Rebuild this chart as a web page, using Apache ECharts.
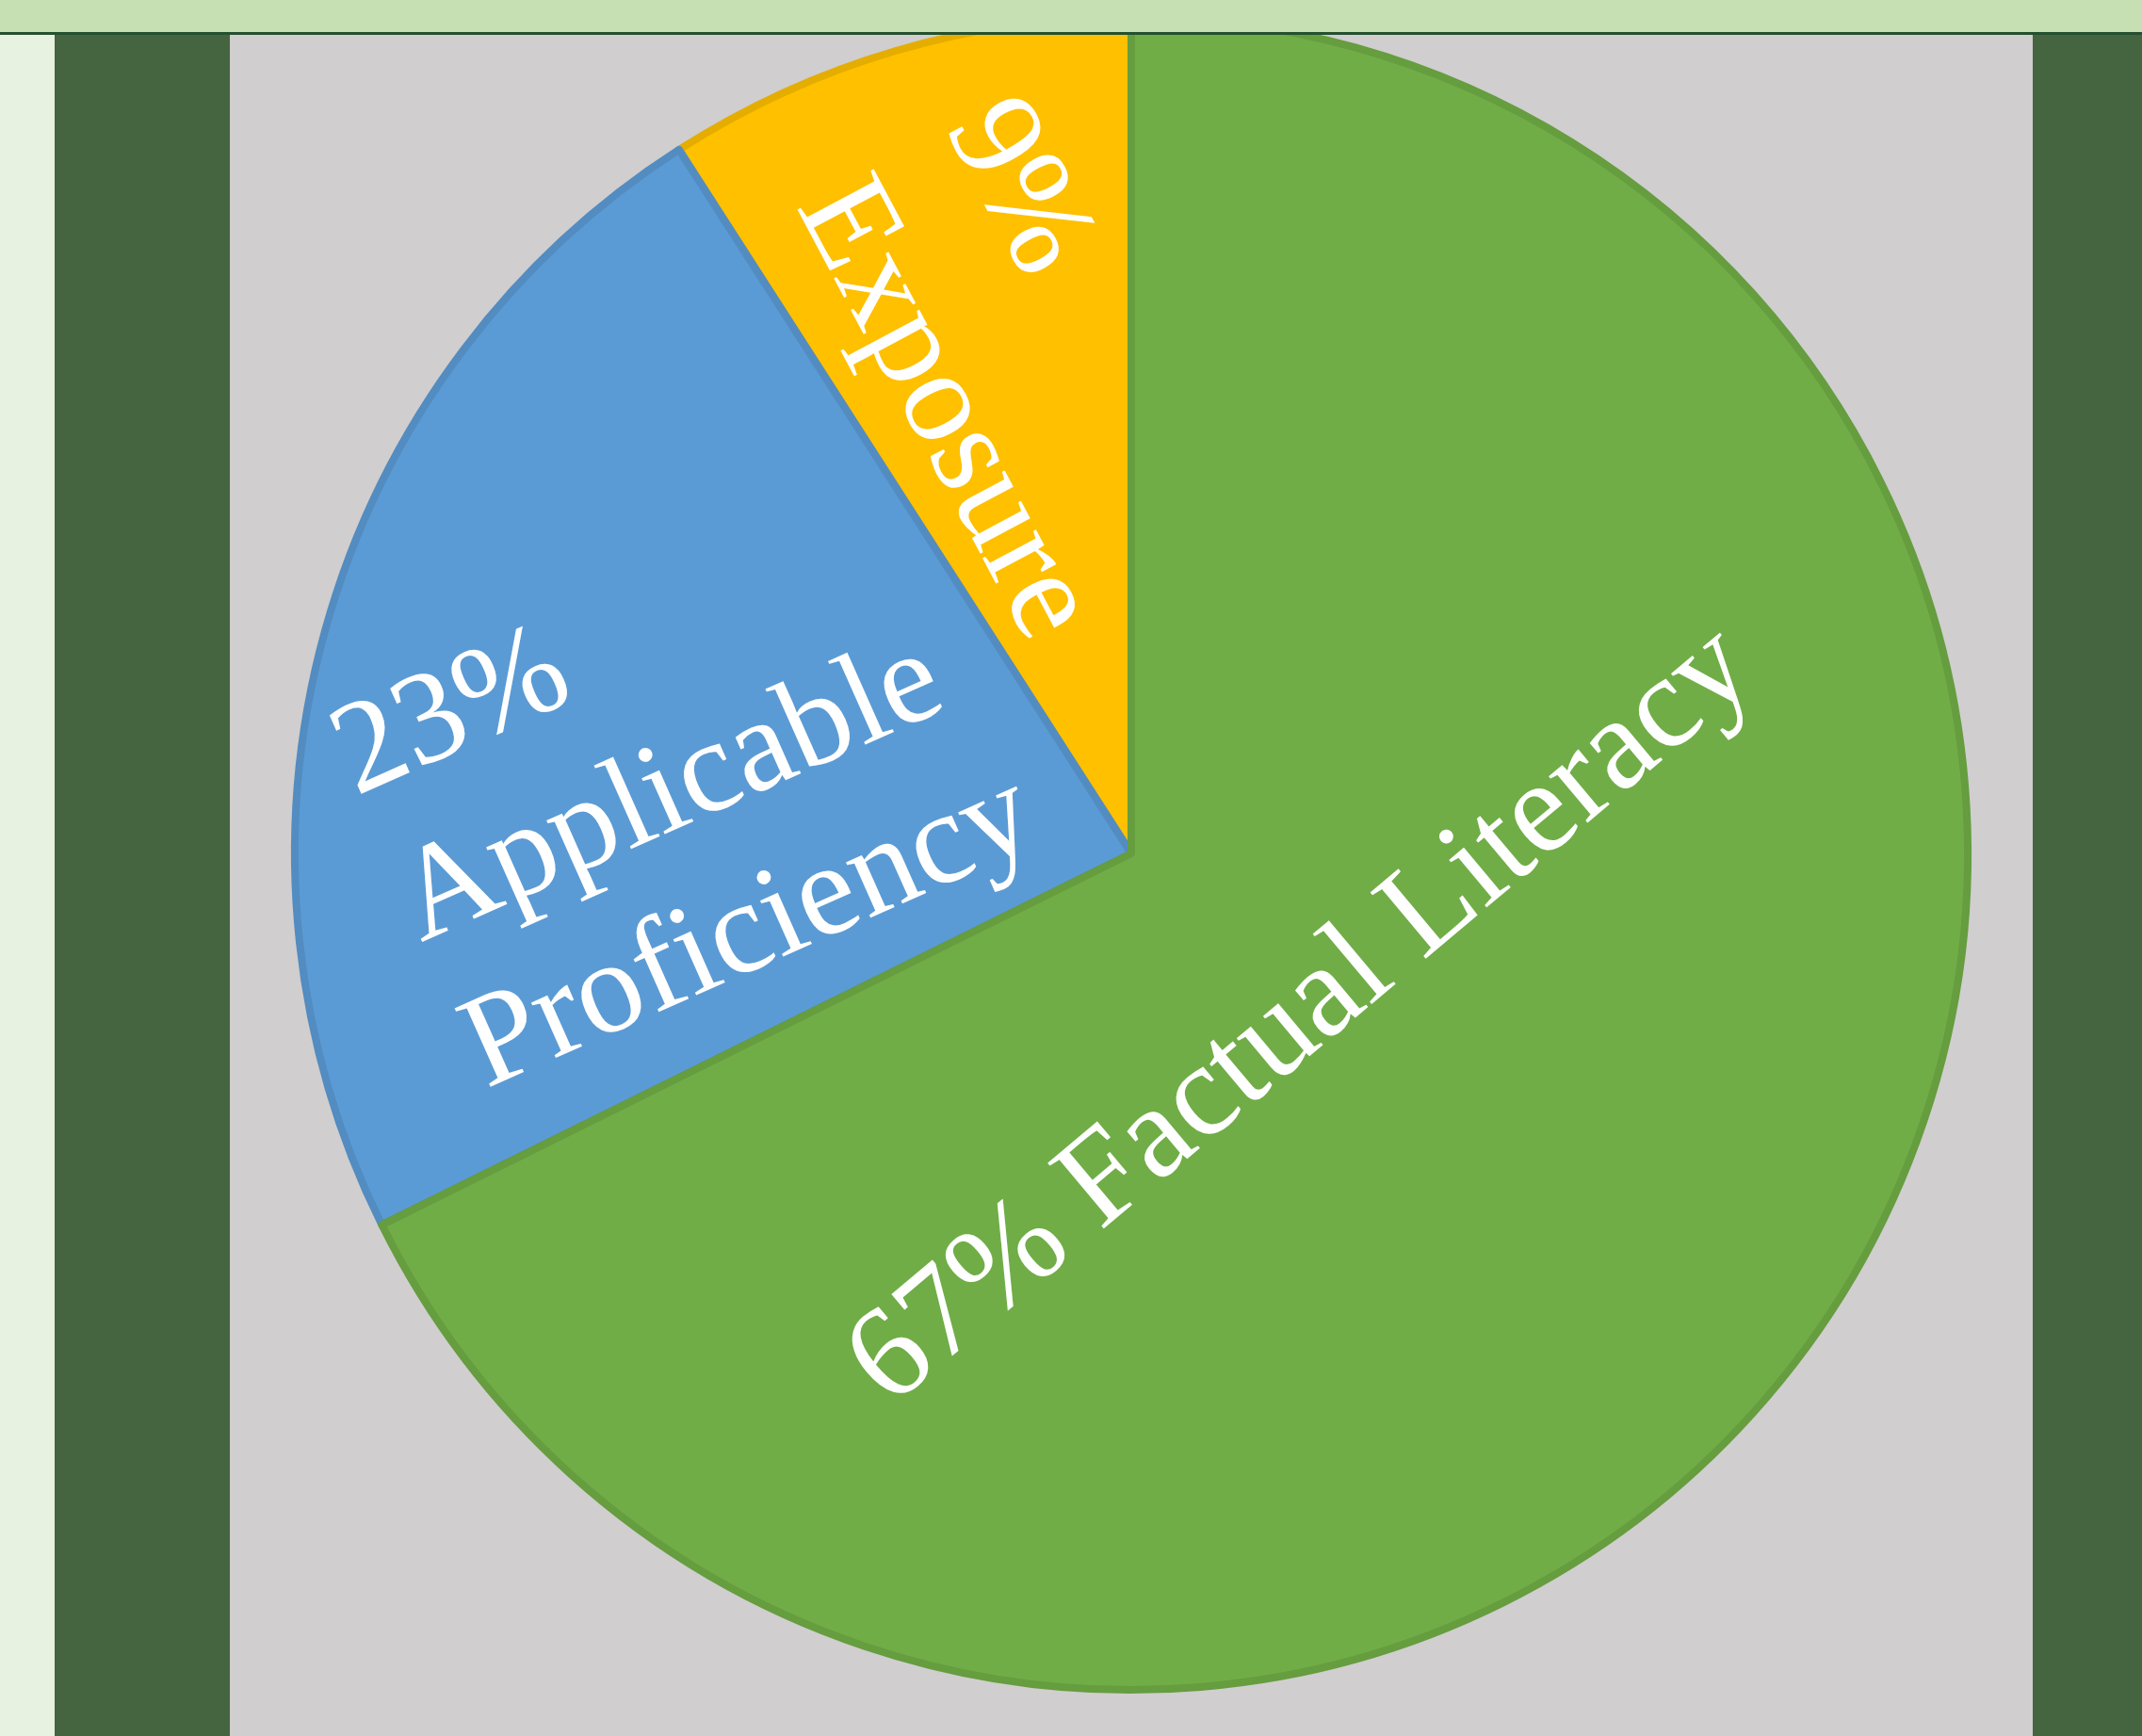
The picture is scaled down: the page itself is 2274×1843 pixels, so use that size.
<!doctype html>
<html>
<head>
<meta charset="UTF-8">
<title></title>
<script src="https://cdn.jsdelivr.net/npm/echarts@6/dist/echarts.min.js"></script>
<style>
	html, body { margin: 0; padding: 0; background: #d0cece; }
	#main { width: 2274px; height: 1843px; }
</style>
</head>
<body>
<div id="main"></div>
<script>
var categories = ['Exposure', 'Applicable Proficiency', 'Factual Literacy'];
var labelNames = ['Exposure', 'Applicable\nProficiency', 'Factual Literacy'];
var labelJoin = ['\n', '\n', ' '];
var values = [9, 23, 67];

var fillColors = ['#ffc000', '#5b9bd5', '#70ad47'];
var edgeColors = ['#e5ad00', '#528cc1', '#659d3f'];

// how each label sits in its slice (rotation / alignment / nudge off the default inside spot)
var labelRotate = [-62, 24, 40];
var labelAlign = ['left', 'left', 'center'];
var labelLine = [179, 170, 150];
var labelShift = [[-336, -44], [-382, 27], [-112, -175]];

var chart = echarts.init(document.getElementById('main'));

var pieData = categories.map(function (name, i) {
	return {
		name: name,
		value: values[i],
		itemStyle: { color: fillColors[i], borderColor: edgeColors[i] },
		label: { lineHeight: labelLine[i] }
	};
});

var option = {
	backgroundColor: '#d0cece',
	animation: false,
	graphic: [
		{ type: 'rect', z: 100, shape: { x: 0, y: 0, width: 58, height: 1843 }, style: { fill: '#e7f2e0' } },
		{ type: 'rect', z: 100, shape: { x: 58, y: 0, width: 186, height: 1843 }, style: { fill: '#456440' } },
		{ type: 'rect', z: 100, shape: { x: 2158, y: 0, width: 116, height: 1843 }, style: { fill: '#456440' } },
		{ type: 'rect', z: 100, shape: { x: 0, y: 0, width: 2274, height: 34 }, style: { fill: '#c6e0b4' } },
		{ type: 'rect', z: 100, shape: { x: 0, y: 34, width: 2274, height: 3 }, style: { fill: '#24502f' } }
	],
	series: [{
		type: 'pie',
		center: [1201, 906],
		radius: [0, 888],
		startAngle: 90,
		clockwise: false,
		avoidLabelOverlap: false,
		itemStyle: { borderWidth: 8 },
		label: {
			show: true,
			position: 'inside',
			color: '#ffffff',
			fontFamily: '"Liberation Serif", "Times New Roman", serif',
			fontSize: 140,
			formatter: function (p) {
				return p.value + '%' + labelJoin[p.dataIndex] + labelNames[p.dataIndex];
			}
		},
		labelLine: { show: false },
		labelLayout: function (p) {
			var i = p.dataIndex;
			return {
				dx: labelShift[i][0],
				dy: labelShift[i][1],
				rotate: labelRotate[i],
				align: labelAlign[i],
				verticalAlign: 'middle'
			};
		},
		emphasis: { disabled: true },
		data: pieData
	}]
};

chart.setOption(option);
</script>
</body>
</html>
